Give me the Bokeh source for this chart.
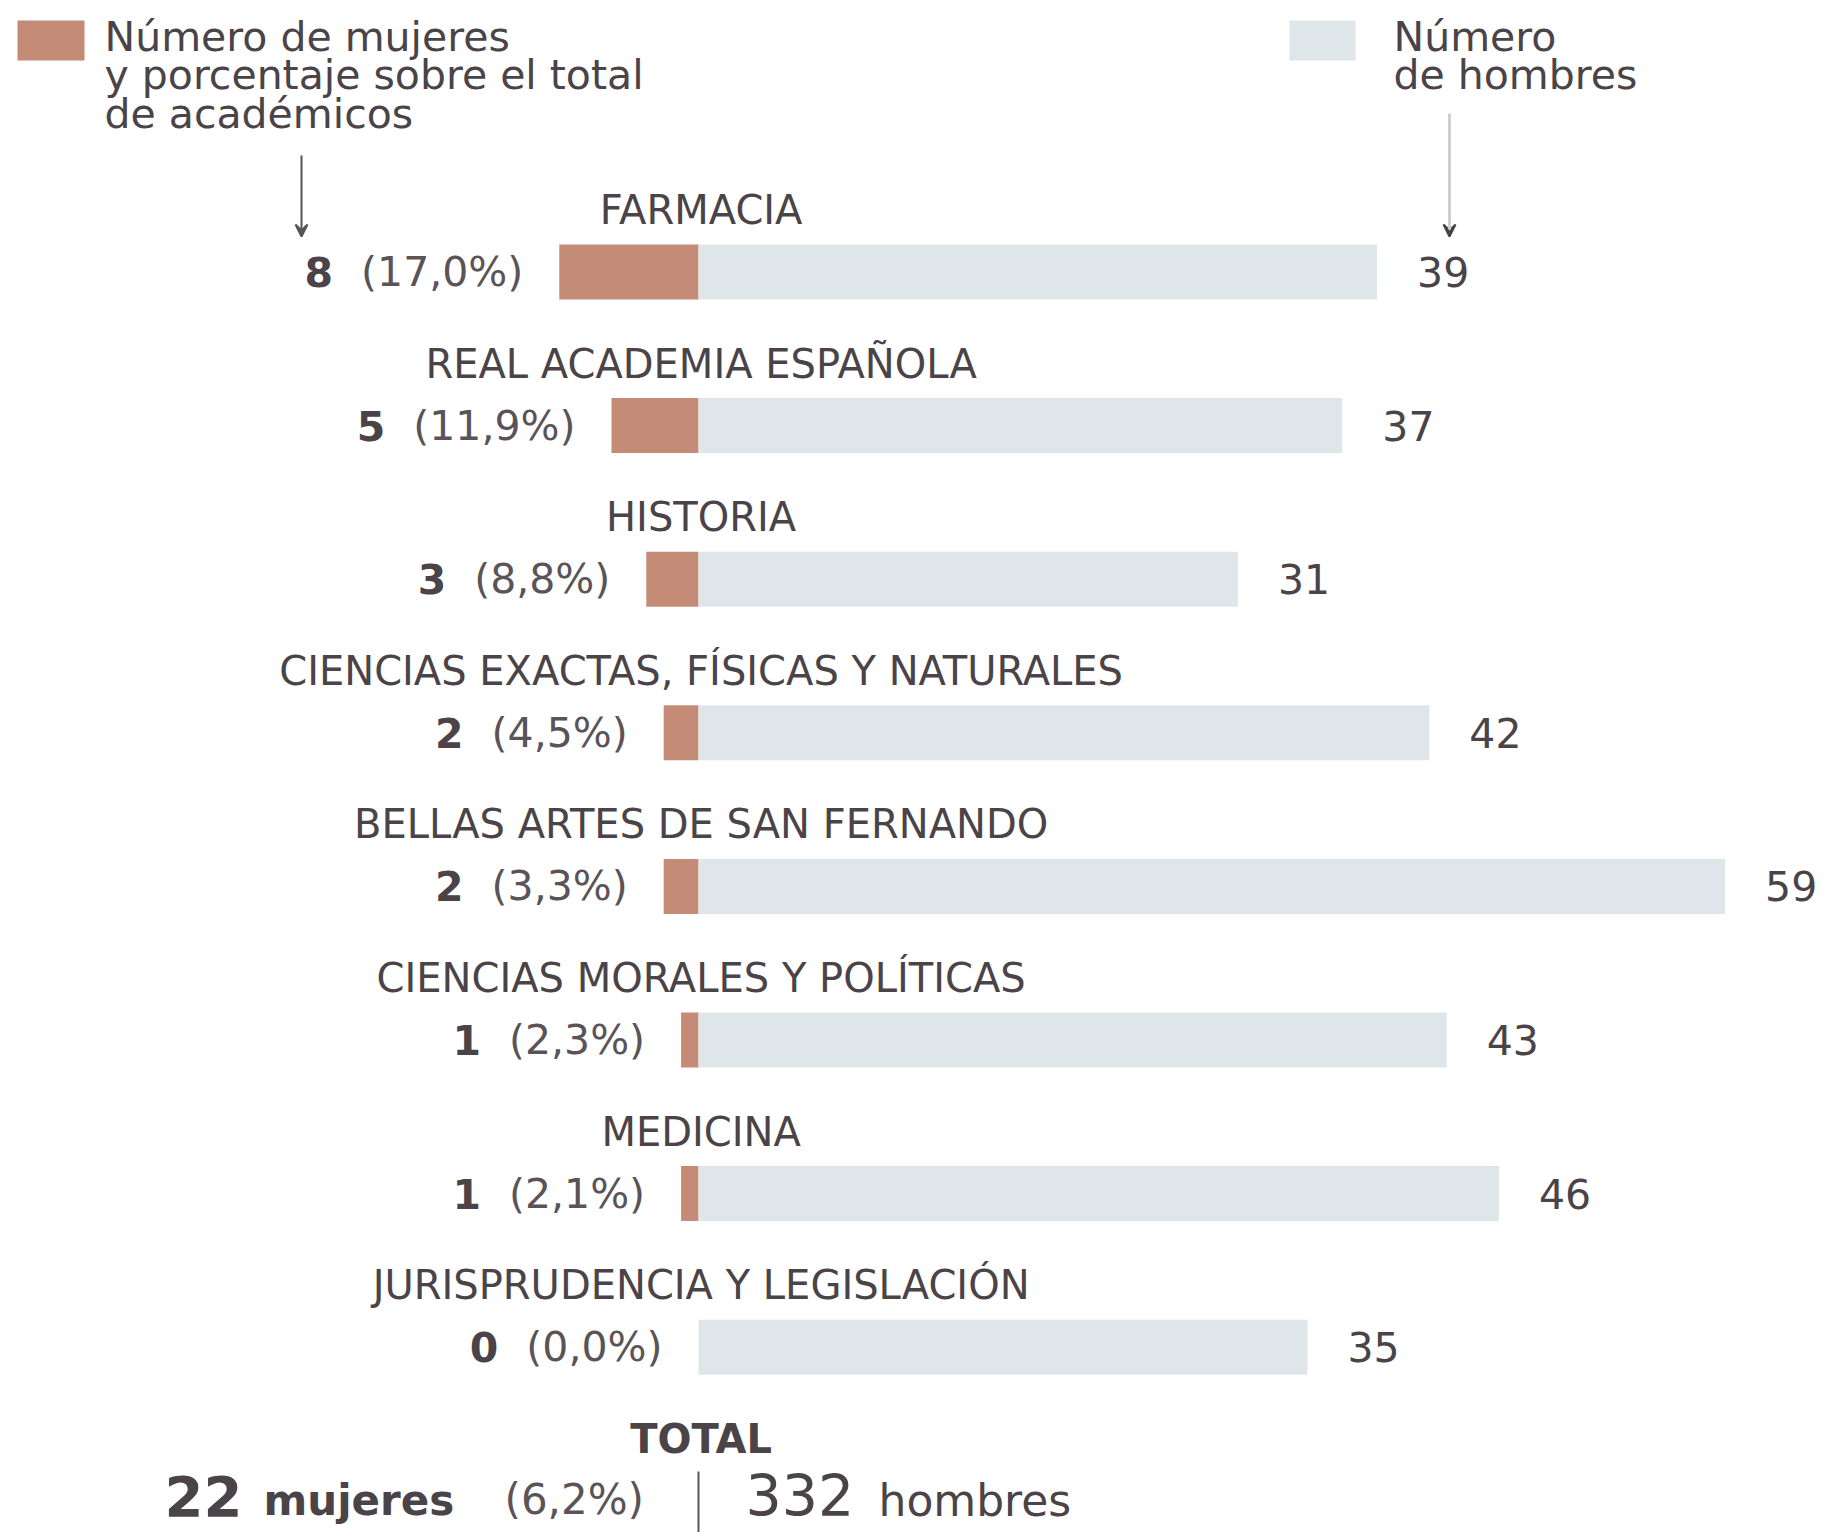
from bokeh.plotting import figure
from bokeh.models import Range1d, Arrow, VeeHead, ColumnDataSource
from bokeh.embed import file_html
from bokeh.resources import INLINE
from bokeh.core.properties import value

# ---- data ----
categories = ["FARMACIA", "REAL ACADEMIA ESPAÑOLA", "HISTORIA",
              "CIENCIAS EXACTAS, FÍSICAS Y NATURALES", "BELLAS ARTES DE SAN FERNANDO",
              "CIENCIAS MORALES Y POLÍTICAS", "MEDICINA", "JURISPRUDENCIA Y LEGISLACIÓN"]
women = [8, 5, 3, 2, 2, 1, 1, 0]
men = [39, 37, 31, 42, 59, 43, 46, 35]
legend_women = ["Número de mujeres", "y porcentaje sobre el total", "de académicos"]
legend_men = ["Número", "de hombres"]

total_women = sum(women)
total_men = sum(men)

def pct(w, m):
    return "(" + f"{100.0 * w / (w + m):.1f}".replace(".", ",") + "%)"

pcts = [pct(w, m) for w, m in zip(women, men)]
total_pct = pct(total_women, total_men)

# ---- style ----
FONT = "DejaVu Sans"
WCOL = "#c48b77"
MCOL = "#dee6e9"
TXT = "#4a4347"
TXT2 = "#5a5357"
FS = 40      # category titles
FN = 41      # row numbers
FL = 41      # legend

W, H = 1824, 1532
PX = 17.4     # pixels per person
X0 = 698      # pixel of divider
RY = 153.6    # pixels per row
Y0 = 271.5    # pixel of first row centre

p = figure(width=W, height=H, output_backend="svg", toolbar_location=None,
           x_range=Range1d(-X0 / PX, (W - X0) / PX),
           y_range=Range1d((H - Y0) / RY, -Y0 / RY),
           x_axis_type=None, y_axis_type=None, min_border=0,
           outline_line_color=None, background_fill_color="white")
p.grid.visible = False

def dx(rx):
    return (rx - X0) / PX

def dy(ry):
    return (ry - Y0) / RY

# character widths (em) of DejaVu Sans for the percentage labels
CW = {"(": 0.390, ")": 0.390, ",": 0.318, "%": 0.950}
def tw(s, size):
    return sum(CW.get(c, 0.636) for c in s) * size

rows = list(range(len(categories)))
bh = 55 / RY

p.hbar(y=rows, left=[-w for w in women], right=0, height=bh,
       fill_color=WCOL, line_color=None)
p.hbar(y=rows, left=0, right=men, height=bh, fill_color=MCOL, line_color=None)

# category titles
p.text(x=0.15, y=rows, text=categories, text_align="center", text_baseline="middle",
       y_offset=-62, text_font=value(FONT), text_font_size=f"{FS}px", text_color=TXT)

# men counts
p.text(x=men, y=rows, text=[str(m) for m in men], x_offset=40,
       text_align="left", text_baseline="middle",
       text_font=value(FONT), text_font_size=f"{FN}px", text_color=TXT)

# women pct + number
src = ColumnDataSource(dict(
    x=[-w for w in women], y=rows, pct=pcts, num=[str(w) for w in women],
    noff=[-36 - tw(s, FN) - 28 for s in pcts]))
p.text(x="x", y="y", text="pct", x_offset=-36, source=src,
       text_align="right", text_baseline="middle",
       text_font=value(FONT), text_font_size=f"{FN}px", text_color=TXT2)
p.text(x="x", y="y", text="num", x_offset="noff", source=src,
       text_align="right", text_baseline="middle", text_font_style="bold",
       text_font=value(FONT), text_font_size=f"{FN}px", text_color=TXT)

# legend
p.quad(left=[dx(17)], right=[dx(84)], top=[dy(20)], bottom=[dy(60)],
       fill_color=WCOL, line_color=None)
p.text(x=dx(104), y=[dy(36), dy(74.5), dy(113)], text=legend_women,
       text_align="left", text_baseline="middle",
       text_font=value(FONT), text_font_size=f"{FL}px", text_color=TXT)
p.quad(left=[dx(1289)], right=[dx(1355)], top=[dy(20)], bottom=[dy(60)],
       fill_color=MCOL, line_color=None)
p.text(x=dx(1393), y=[dy(36), dy(74.5)], text=legend_men,
       text_align="left", text_baseline="middle",
       text_font=value(FONT), text_font_size=f"{FL}px", text_color=TXT)

# arrows
p.add_layout(Arrow(x_start=dx(301), y_start=dy(155), x_end=dx(301), y_end=dy(236),
                   line_color="#555555", line_width=2,
                   end=VeeHead(size=12, line_color="#555555", fill_color="#555555", line_width=2)))
p.add_layout(Arrow(x_start=dx(1449), y_start=dy(113), x_end=dx(1449), y_end=dy(236),
                   line_color="#cfcfcf", line_width=3,
                   end=VeeHead(size=12, line_color="#444444", fill_color="#444444", line_width=2)))

# total
p.text(x=0.15, y=[dy(1438)], text=["TOTAL"], text_align="center", text_baseline="middle",
       text_font_style="bold", text_font=value(FONT), text_font_size="40px", text_color=TXT)
p.text(x=[dx(164)], y=[dy(1495)], text=[str(total_women)], text_align="left",
       text_baseline="middle", text_font_style="bold",
       text_font=value(FONT), text_font_size="56px", text_color=TXT)
p.text(x=[dx(263)], y=[dy(1500)], text=["mujeres"], text_align="left",
       text_baseline="middle", text_font_style="bold",
       text_font=value(FONT), text_font_size="42px", text_color=TXT)
p.text(x=[dx(504)], y=[dy(1499)], text=[total_pct], text_align="left",
       text_baseline="middle",
       text_font=value(FONT), text_font_size="42px", text_color=TXT2)
p.segment(x0=[0], y0=[dy(1471)], x1=[0], y1=[dy(1532)], line_color="#555555", line_width=2)
p.text(x=[dx(745)], y=[dy(1494)], text=[str(total_men)], text_align="left",
       text_baseline="middle",
       text_font=value(FONT), text_font_size="57px", text_color=TXT)
p.text(x=[dx(878)], y=[dy(1500)], text=["hombres"], text_align="left",
       text_baseline="middle",
       text_font=value(FONT), text_font_size="44px", text_color=TXT)

open("out.html", "w").write(file_html(p, INLINE))
